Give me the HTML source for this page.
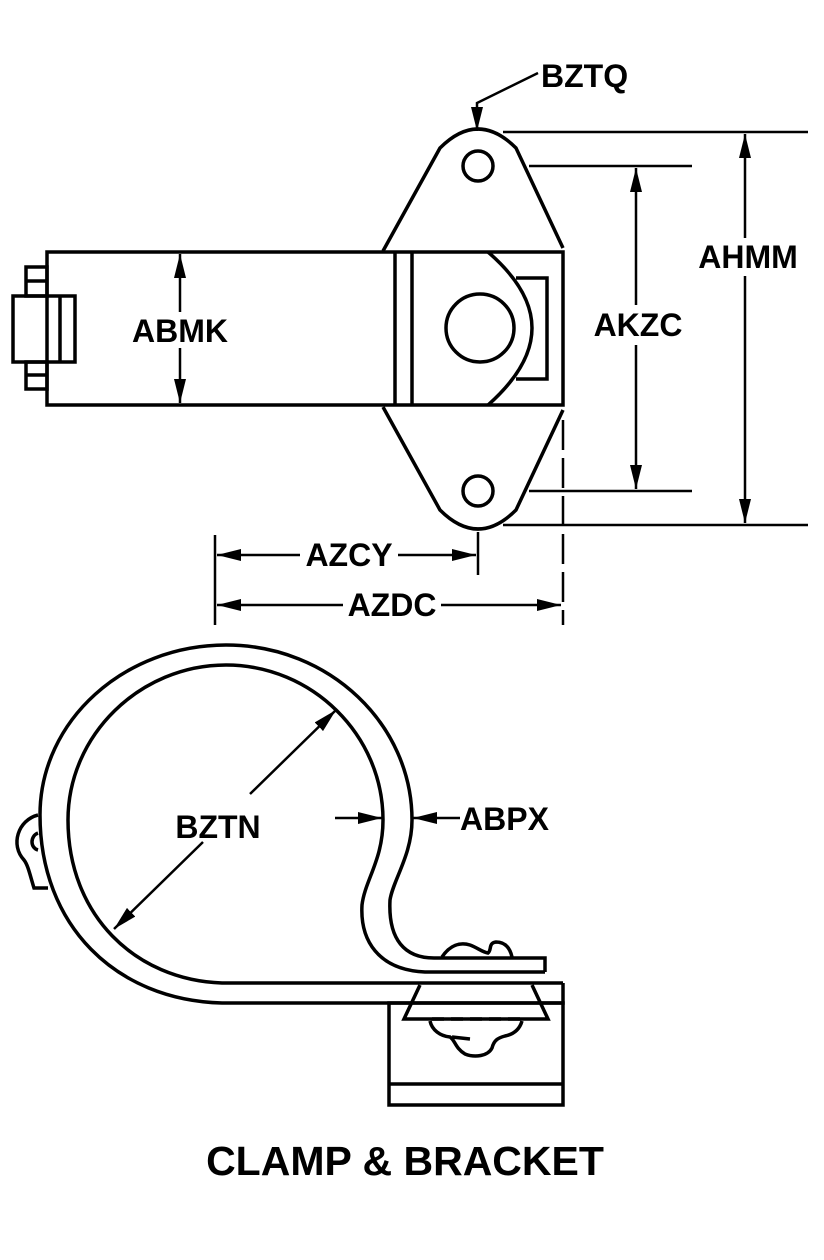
<!DOCTYPE html>
<html><head><meta charset="utf-8"><style>
html,body{margin:0;padding:0;background:#fff;}
svg{display:block;}
text{font-family:"Liberation Sans",sans-serif;font-weight:bold;fill:#000;}
</style></head><body>
<svg width="824" height="1260" viewBox="0 0 824 1260" xmlns="http://www.w3.org/2000/svg">
<defs>
<marker id="ah" viewBox="0 0 24 12" refX="24" refY="6" markerWidth="24" markerHeight="12" markerUnits="userSpaceOnUse" orient="auto-start-reverse">
<path d="M0,0 L24,6 L0,12 Z" fill="#000"/>
</marker>
</defs>
<g fill="none" stroke="#000" stroke-width="3.5">
<path d="M383,251 L440,148 Q478,110 516,148 L563,248"/>
<path d="M383,407 L440,510 Q478,548 516,510 L563,410"/>
<circle cx="478" cy="166" r="15"/>
<circle cx="478" cy="491" r="15"/>
<rect x="47" y="252" width="516" height="153"/>
<line x1="395" y1="252" x2="395" y2="405"/>
<line x1="412" y1="252" x2="412" y2="405"/>
<path d="M488,252 Q532,290 532,328 Q532,366 488,405"/>
<polyline points="516,278 547,278 547,379 516,379"/>
<circle cx="480" cy="328" r="34"/>
<rect x="13" y="296" width="62" height="66"/>
<line x1="60" y1="296" x2="60" y2="362"/>
<rect x="26" y="267" width="21" height="29"/>
<line x1="26" y1="281" x2="47" y2="281"/>
<rect x="26" y="362" width="21" height="27"/>
<line x1="26" y1="375" x2="47" y2="375"/>
</g>
<g stroke="#000" stroke-width="2.5" fill="none">
<line x1="180" y1="254" x2="180" y2="312" marker-start="url(#ah)"/>
<line x1="180" y1="348" x2="180" y2="403" marker-end="url(#ah)"/>
<polyline points="538,73 477,103 477,131" marker-end="url(#ah)"/>
<line x1="503" y1="132" x2="808" y2="132"/>
<line x1="503" y1="525" x2="808" y2="525"/>
<line x1="745" y1="134" x2="745" y2="238" marker-start="url(#ah)"/>
<line x1="745" y1="276" x2="745" y2="523" marker-end="url(#ah)"/>
<line x1="529" y1="166" x2="692" y2="166"/>
<line x1="529" y1="491" x2="692" y2="491"/>
<line x1="636" y1="168" x2="636" y2="305" marker-start="url(#ah)"/>
<line x1="636" y1="345" x2="636" y2="489" marker-end="url(#ah)"/>
<line x1="563" y1="420" x2="563" y2="625" stroke-dasharray="30,8"/>
<line x1="215" y1="535" x2="215" y2="625"/>
<line x1="478" y1="532" x2="478" y2="575"/>
<line x1="217" y1="555" x2="300" y2="555" marker-start="url(#ah)"/>
<line x1="398" y1="555" x2="476" y2="555" marker-end="url(#ah)"/>
<line x1="217" y1="605" x2="343" y2="605" marker-start="url(#ah)"/>
<line x1="441" y1="605" x2="561" y2="605" marker-end="url(#ah)"/>
<line x1="336" y1="710" x2="250" y2="794" marker-start="url(#ah)"/>
<line x1="203" y1="842" x2="114" y2="929" marker-end="url(#ah)"/>
<line x1="335" y1="818" x2="382" y2="818" marker-end="url(#ah)"/>
<line x1="460" y1="818" x2="413" y2="818" marker-end="url(#ah)"/>
</g>
<g fill="none" stroke="#000" stroke-width="3.5">
<path d="M563,983 L222,983 C135,980 68,915 68,820 C68,735 140,665 226,665 C312,665 383,735 383,820 C383,860 365,880 362,905 C360,940 378,970 425,972 L545,972"/>
<path d="M545,972 L545,958 L434,958 C405,958 388,940 390,900 C393,880 412,855 412,820 C412,725 330,645 226,645 C125,645 40,720 40,815 C40,925 115,1000 222,1003 L563,1003 L563,983"/>
<path d="M38,815 C18,820 10,845 24,860 C28,865 30,875 34,888 L48,888"/>
<path d="M38,833 C30,836 30,848 38,850"/>
<rect x="389" y="1003" width="174" height="102"/>
<line x1="389" y1="1084" x2="563" y2="1084"/>
<polyline points="420,985 404,1019 548,1019 532,985"/>
<line x1="432" y1="1019" x2="520" y2="1019" stroke-dasharray="12,7"/>
<path d="M442,957 C450,945 460,942 470,945 C478,948 482,952 488,953 C492,950 488,943 496,942 C505,942 510,948 512,957"/>
<path d="M430,1021 C432,1030 440,1036 450,1037 C455,1040 455,1048 465,1054 C475,1058 488,1056 492,1048 C494,1040 498,1038 505,1036 C515,1034 520,1028 522,1021"/>
<path d="M452,1037 L470,1039"/>
</g>
<g font-size="32">
<text x="541" y="87">BZTQ</text>
<text x="180" y="342" text-anchor="middle">ABMK</text>
<text x="748" y="268" text-anchor="middle">AHMM</text>
<text x="638" y="336" text-anchor="middle">AKZC</text>
<text x="349" y="566" text-anchor="middle">AZCY</text>
<text x="392" y="616" text-anchor="middle">AZDC</text>
<text x="218" y="838" text-anchor="middle">BZTN</text>
<text x="460" y="830">ABPX</text>
</g>
<text x="405" y="1175" font-size="41" text-anchor="middle">CLAMP &amp; BRACKET</text>
</svg>
</body></html>
